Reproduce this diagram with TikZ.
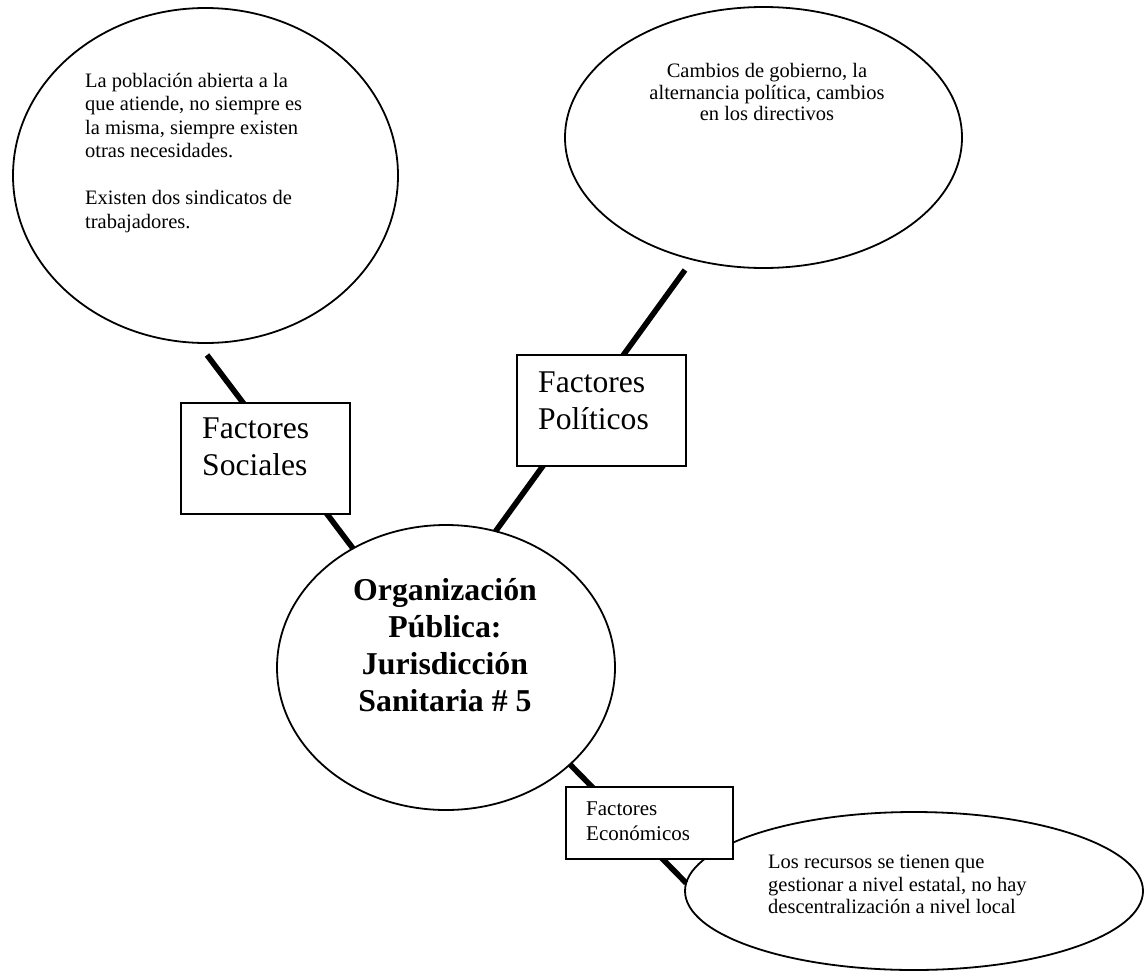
\documentclass[tikz,border=0pt]{standalone}
\usepackage{fontspec}
\setmainfont{Liberation Serif}
\usetikzlibrary{shapes.geometric,calc}
\begin{document}
\begin{tikzpicture}[x=1pt,y=-1pt,
  bubble/.style={draw,ellipse,line width=1.8pt,inner sep=0pt,outer sep=0pt},
  factbox/.style={draw,rectangle,fill=white,line width=1.8pt,inner sep=0pt,outer sep=0pt},
  link/.style={line width=5.6pt},
  smalltext/.style={inner sep=0pt,font=\fontsize{20.5}{23.5}\selectfont},
  bigtext/.style={inner sep=0pt,font=\fontsize{31.6}{37}\selectfont}]
\useasboundingbox (0,0) rectangle (1148,977);

% outer bubbles and the central organisation
\node[bubble,minimum width=385pt,minimum height=335pt] (soc) at (205.5,175.5) {};
\node[bubble,minimum width=397pt,minimum height=261pt] (pol) at (763.5,137.5) {};
\node[bubble,minimum width=338pt,minimum height=285pt] (cen) at (446,667.5) {};
\node[bubble,minimum width=458pt,minimum height=158pt] (eco) at (914,891) {};

% free ends of the upper connectors
\coordinate (socTip) at (207,355);
\coordinate (polTip) at (685,270);

% connectors (boxes are drawn on top of them)
\draw[link] (socTip) -- (cen.128.8);
\draw[link] (polTip) -- (cen.70.4);
\draw[link] (cen.-38.9) -- (eco.178);

% factor boxes
\node[factbox,minimum width=169pt,minimum height=111pt] (socB) at (265.5,458.5) {};
\node[factbox,minimum width=169pt,minimum height=111pt] (polB) at (601.5,410.5) {};
\node[factbox,minimum width=167pt,minimum height=72pt] (ecoB) at (649.5,823) {};

% texts
\node[smalltext,anchor=north west,align=left] (socT) at (85,73)
  {La población abierta a la\\que atiende, no siempre es\\la misma, siempre existen\\otras necesidades.\\[23.5pt]Existen dos sindicatos de\\trabajadores.};
\node[inner sep=0pt,font=\fontsize{20.5}{21.7}\selectfont,anchor=north,align=center] (polT) at (767,63)
  {Cambios de gobierno, la\\alternancia política, cambios\\en los directivos};
\node[inner sep=0pt,font=\fontsize{20.5}{22.5}\selectfont,anchor=north west,align=left] (ecoT) at (768,855)
  {Los recursos se tienen que\\gestionar a nivel estatal, no hay\\descentralización a nivel local};

\node[bigtext,anchor=north west,align=left] (socBT) at (202,418) {Factores\\Sociales};
\node[bigtext,anchor=north west,align=left] (polBT) at (538,372) {Factores\\Políticos};
\node[inner sep=0pt,font=\fontsize{21}{25}\selectfont,anchor=north west,align=left] (ecoBT) at (586,802) {Factores\\Económicos};

\node[inner sep=0pt,font=\fontsize{31.8}{37}\selectfont\bfseries,anchor=north,align=center] (cenT) at (445,578)
  {Organización\\Pública:\\Jurisdicción\\Sanitaria \# 5};
\end{tikzpicture}
\end{document}
